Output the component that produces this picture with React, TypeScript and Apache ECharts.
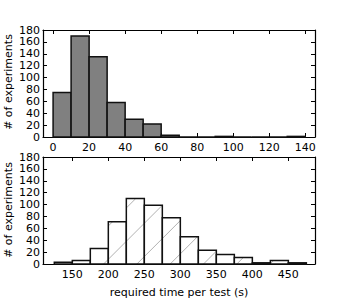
import React, { useEffect, useRef } from "react";
import * as echarts from "echarts";

// Top histogram: bins of width 10 starting at 0
const topBinStarts = [0, 10, 20, 30, 40, 50, 60, 70, 80, 90, 100, 110, 120, 130];
const topBinWidth = 10;
const topCounts = [75, 170, 135, 58, 30, 22, 3, 0, 0, 1, 0, 0, 0, 1];
const topTicks = [0, 20, 40, 60, 80, 100, 120, 140];

// Bottom histogram: bins of width 25 starting at 125
const bottomBinStarts = [125, 150, 175, 200, 225, 250, 275, 300, 325, 350, 375, 400, 425, 450];
const bottomBinWidth = 25;
const bottomCounts = [3, 6, 26, 71, 110, 99, 78, 46, 23, 16, 11, 2, 6, 2];
const bottomTicks = [150, 200, 250, 300, 350, 400, 450];

const yLabel = "# of experiments";
const xLabel = "required time per test (s)";

const FONT = "DejaVu Sans";

export default function App() {
  const ref = useRef<HTMLDivElement>(null);
  useEffect(() => {
    if (!ref.current) return;
    const chart = echarts.init(ref.current, undefined, { renderer: "svg" });

    const topData = topBinStarts.map((s, i) => [s, s + topBinWidth, topCounts[i]]);
    const bottomData = bottomBinStarts.map((s, i) => [s, s + bottomBinWidth, bottomCounts[i]]);

    const makeRender = (hatch: boolean) => (params: any, api: any) => {
      const x0 = api.value(0);
      const x1 = api.value(1);
      const c = api.value(2);
      const pA = api.coord([x0, c]);
      const pB = api.coord([x1, 0]);
      const left = pA[0];
      const right = pB[0];
      const top = pA[1];
      const bot = pB[1];
      const children: any[] = [];
      children.push({
        type: "rect",
        shape: { x: left, y: top, width: right - left, height: bot - top },
        style: { fill: hatch ? "#ffffff" : "#808080", stroke: "none" },
      });
      if (hatch && bot - top > 1) {
        const spacing = 33.3;
        const offset = 1.3;
        const cMin = left + top;
        const cMax = right + bot;
        let k = Math.ceil((cMin - offset) / spacing);
        for (; k * spacing + offset <= cMax; k++) {
          const cc = k * spacing + offset;
          const xa = Math.max(left, cc - bot);
          const xb = Math.min(right, cc - top);
          if (xb - xa > 0.5) {
            children.push({
              type: "line",
              shape: { x1: xa, y1: cc - xa, x2: xb, y2: cc - xb },
              style: { stroke: "#a8a8a8", lineWidth: 0.9 },
            });
          }
        }
      }
      children.push({
        type: "rect",
        shape: { x: left, y: top, width: right - left, height: bot - top },
        style: { fill: "none", stroke: "#111111", lineWidth: 1.5 },
      });
      return { type: "group", children };
    };

    const axisLine = { show: true, onZero: false, lineStyle: { color: "#000", width: 1.2 } };
    const labelStyle = { color: "#000", fontFamily: FONT, fontSize: 11 };

    const xAxisFor = (grid: number, min: number, max: number, ticks: number[], pos: "top" | "bottom", showLabel: boolean) => ({
      type: "value",
      gridIndex: grid,
      position: pos,
      min,
      max,
      splitLine: { show: false },
      axisLine,
      axisTick: { show: true, inside: true, length: 4, lineStyle: { color: "#000", width: 1 }, customValues: ticks },
      axisLabel: { show: showLabel, ...labelStyle, margin: 5, customValues: ticks },
    });

    const yAxisFor = (grid: number, pos: "left" | "right", showLabel: boolean) => ({
      type: "value",
      gridIndex: grid,
      position: pos,
      min: 0,
      max: 180,
      interval: 20,
      splitLine: { show: false },
      axisLine,
      axisTick: { show: true, inside: true, length: 4, lineStyle: { color: "#000", width: 1 } },
      axisLabel: { show: showLabel, ...labelStyle, margin: 3 },
    });

    chart.setOption({
      animation: false,
      backgroundColor: "#ffffff",
      grid: [
        { left: 43, right: 35, top: 30, height: 107 },
        { left: 43, right: 35, top: 157, height: 107 },
      ],
      xAxis: [
        xAxisFor(0, -5.6, 145.4, topTicks, "bottom", true),
        xAxisFor(0, -5.6, 145.4, topTicks, "top", false),
        xAxisFor(1, 109.3, 487, bottomTicks, "bottom", true),
        xAxisFor(1, 109.3, 487, bottomTicks, "top", false),
      ],
      yAxis: [
        yAxisFor(0, "left", true),
        yAxisFor(0, "right", false),
        yAxisFor(1, "left", true),
        yAxisFor(1, "right", false),
      ],
      series: [
        {
          type: "custom",
          xAxisIndex: 0,
          yAxisIndex: 0,
          data: topData,
          encode: { x: [0, 1], y: 2 },
          renderItem: makeRender(false),
          clip: false,
        },
        {
          type: "custom",
          xAxisIndex: 2,
          yAxisIndex: 2,
          data: bottomData,
          encode: { x: [0, 1], y: 2 },
          renderItem: makeRender(true),
          clip: false,
        },
      ],
      graphic: [
        {
          type: "text",
          x: 8,
          y: 82,
          rotation: Math.PI / 2,
          style: { text: yLabel, fill: "#000", font: `11px '${FONT}'`, textAlign: "center", textVerticalAlign: "middle" },
        },
        {
          type: "text",
          x: 8,
          y: 210,
          rotation: Math.PI / 2,
          style: { text: yLabel, fill: "#000", font: `11px '${FONT}'`, textAlign: "center", textVerticalAlign: "middle" },
        },
        {
          type: "text",
          x: 179,
          y: 292,
          style: { text: xLabel, fill: "#000", font: `11px '${FONT}'`, textAlign: "center", textVerticalAlign: "middle" },
        },
      ],
    });
    return () => chart.dispose();
  }, []);
  return (
    <div
      ref={ref}
      style={{ position: "fixed", left: 0, top: 0, width: 350, height: 300, background: "#fff" }}
    />
  );
}
